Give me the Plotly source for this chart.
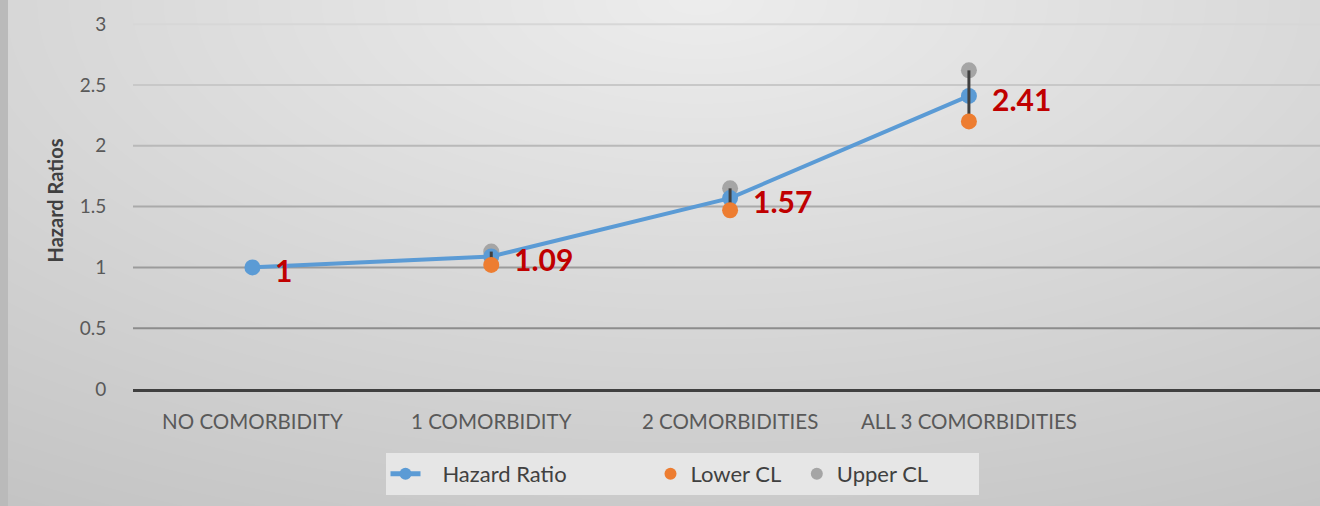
import base64, struct, zlib
import numpy as np
import plotly.graph_objects as go

# ---------------- data ----------------
categories = ["NO COMORBIDITY", "1 COMORBIDITY", "2 COMORBIDITIES", "ALL 3 COMORBIDITIES"]
hazard_ratio = [1.0, 1.09, 1.57, 2.41]
lower_cl = [None, 1.02, 1.47, 2.20]
upper_cl = [None, 1.13, 1.65, 2.62]
y_ticks = [0, 0.5, 1, 1.5, 2, 2.5, 3]
y_tick_labels = ["0", "0.5", "1", "1.5", "2", "2.5", "3"]

# ---------------- geometry ----------------
W, H = 1320, 506
ML, MR, MT, MB = 133, 0, 12, 117
PW, PH = W - ML - MR, H - MT - MB
FONT = "Lato"


def png_gray(arr):
    h, w = arr.shape
    raw = b"".join(b"\x00" + arr[i].tobytes() for i in range(h))
    def chunk(t, d):
        c = struct.pack(">I", len(d)) + t + d
        return c + struct.pack(">I", zlib.crc32(t + d) & 0xffffffff)
    ihdr = struct.pack(">IIBBBBB", w, h, 8, 0, 0, 0, 0)
    data = b"\x89PNG\r\n\x1a\n" + chunk(b"IHDR", ihdr) + chunk(b"IDAT", zlib.compress(raw, 9)) + chunk(b"IEND", b"")
    return "data:image/png;base64," + base64.b64encode(data).decode()


yy, xx = np.mgrid[0:H, 0:W].astype(float)
dist = np.sqrt(((xx - 700) / 1200) ** 2 + ((yy - 0) / 560) ** 2)
bg = 237 - 38 * dist
bg[:, :8] = 186
bg = np.clip(bg, 0, 255).astype(np.uint8)
bg_uri = png_gray(bg)

fig = go.Figure()

# high-low lines built from CL arrays
hl_x, hl_y = [], []
for c, lo, up in zip(categories, lower_cl, upper_cl):
    if lo is None or up is None:
        continue
    hl_x += [c, c, None]
    hl_y += [lo, up, None]

NB = "\u00a0"
fig.add_trace(go.Scatter(
    x=categories, y=upper_cl, mode="markers", name="Upper CL" + NB * 8,
    marker=dict(color="#A5A5A5", size=16), legendrank=3))
fig.add_trace(go.Scatter(
    x=categories, y=hazard_ratio, mode="lines+markers",
    name=NB * 3 + "Hazard Ratio" + NB * 14,
    line=dict(color="#5B9BD5", width=4), marker=dict(color="#5B9BD5", size=16),
    legendrank=1))
fig.add_trace(go.Scatter(
    x=hl_x, y=hl_y, mode="lines", line=dict(color="#404040", width=3),
    showlegend=False, hoverinfo="skip"))
fig.add_trace(go.Scatter(
    x=categories, y=lower_cl, mode="markers", name="Lower CL" + NB * 2,
    marker=dict(color="#ED7D31", size=16), legendrank=2))

# data labels
for c, v in zip(categories, hazard_ratio):
    fig.add_annotation(x=c, y=v, text=f"{v:g}", showarrow=False,
                       xanchor="left", yanchor="middle", xshift=21, yshift=-3,
                       font=dict(family=FONT, size=30, color="#C00000", weight="bold"))

# gridlines with varying shade
for t in y_ticks[1:]:
    shade = int(round(140 + (t - 0.5) / 2.5 * 75))
    col = f"rgb({shade},{shade},{shade})"
    fig.add_shape(type="line", xref="paper", x0=0, x1=1, yref="y", y0=t, y1=t,
                  line=dict(color=col, width=2), layer="below")

fig.update_layout(
    width=W, height=H,
    margin=dict(l=ML, r=MR, t=MT, b=MB),
    paper_bgcolor="#dcdcdc", plot_bgcolor="rgba(0,0,0,0)",
    images=[dict(source=bg_uri, xref="paper", yref="paper",
                 x=-ML / PW, y=1 + MT / PH, sizex=W / PW, sizey=H / PH,
                 xanchor="left", yanchor="top", sizing="stretch", layer="below")],
    font=dict(family=FONT, color="#595959"),
    showlegend=True,
    legend=dict(orientation="h", x=(682 - ML) / PW, xanchor="center",
                y=(389 - 474) / PH, yanchor="middle",
                bgcolor="#e6e6e6", font=dict(size=22, color="#404040"),
                itemsizing="constant", traceorder="normal"),
    xaxis=dict(type="category", range=[-0.5, 4.47], showgrid=False,
               showline=True, linecolor="#404040", linewidth=3,
               ticks="outside", ticklen=12, tickcolor="rgba(0,0,0,0)",
               tickfont=dict(size=20.5, color="#595959"), fixedrange=True),
    yaxis=dict(range=[0, 3.1], tickvals=y_ticks, ticktext=y_tick_labels,
               showgrid=False, zeroline=False, showline=False,
               ticks="outside", ticklen=22, tickcolor="rgba(0,0,0,0)",
               tickfont=dict(size=19, color="#595959"),
               title=dict(text="Hazard Ratios", standoff=10,
                          font=dict(size=20, color="#404040", weight="bold"))),
)

fig.write_html("out.html", config={"displayModeBar": False},
               post_script="document.body.style.margin='0';")
